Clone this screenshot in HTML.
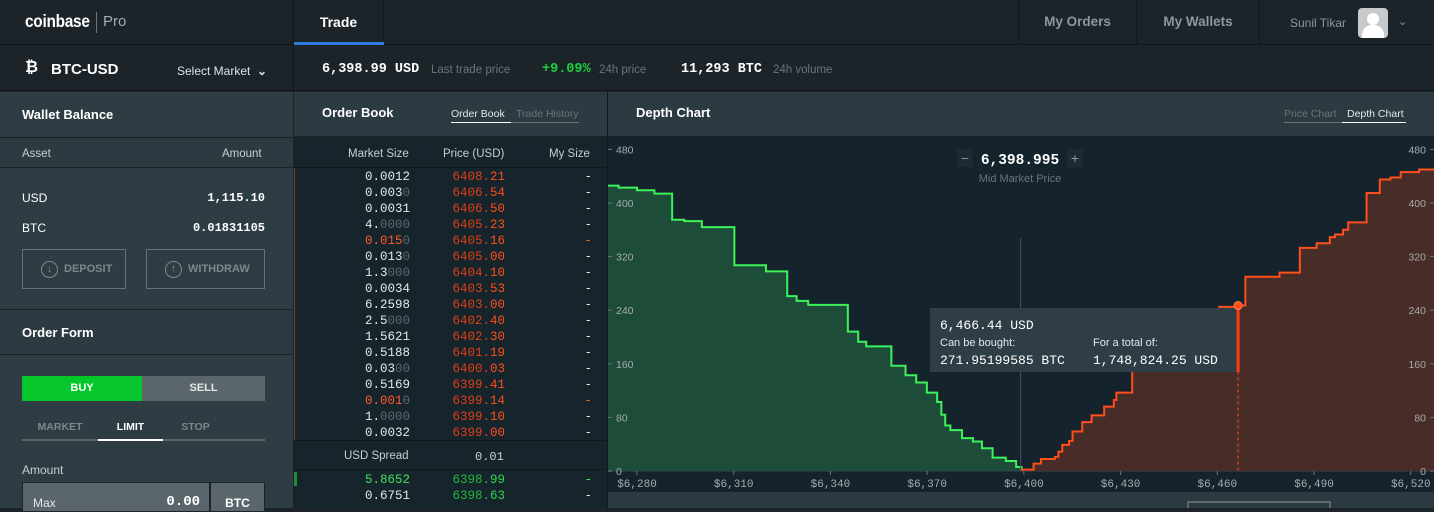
<!DOCTYPE html>
<html><head><meta charset="utf-8"><style>
*{box-sizing:border-box;margin:0;padding:0}
body{width:1434px;height:508px;overflow:hidden;background:#1c2329;font-family:"Liberation Sans",sans-serif;color:#fff;position:relative}
.abs{position:absolute}
.mono{font-family:"Liberation Mono",monospace}
.b{font-weight:bold}
.row{position:absolute;left:294px;width:313px;height:16px;font-family:"Liberation Mono",monospace;font-size:12.5px}
.row span{position:absolute;top:0}
.dim{color:#59646b}
</style></head><body>
<!-- top bar -->
<div class="abs" style="left:0;top:0;width:1434px;height:45px;background:#1c2329;border-bottom:1px solid #11171b"></div>
<div class="abs" style="left:25px;top:11px;font-size:17.5px;letter-spacing:-0.3px;font-weight:bold;transform:scaleX(0.88);transform-origin:left">coinbase</div>
<div class="abs" style="left:96px;top:12px;width:1px;height:21px;background:#6b757b"></div>
<div class="abs" style="left:103px;top:13px;font-size:15px;color:#a5acb0">Pro</div>
<div class="abs" style="left:293px;top:0;width:91px;height:45px;border-left:1px solid #11171b;border-right:1px solid #11171b;text-align:center;line-height:44px;font-size:14px;font-weight:bold">Trade</div>
<div class="abs" style="left:294px;top:42px;width:90px;height:3px;background:#2f7ce0"></div>
<div class="abs" style="left:1018px;top:0;width:119px;height:45px;border-left:1px solid #11171b;border-right:1px solid #11171b;text-align:center;line-height:44px;font-size:13.5px;font-weight:bold;color:#8f979c">My Orders</div>
<div class="abs" style="left:1137px;top:0;width:123px;height:45px;border-right:1px solid #11171b;text-align:center;line-height:44px;font-size:13.5px;font-weight:bold;color:#8f979c">My Wallets</div>
<div class="abs" style="left:1290px;top:16px;font-size:12px;color:#8f979c">Sunil Tikar</div>
<div class="abs" style="left:1358px;top:8px;width:30px;height:30px;background:#c7c9ca;border-radius:4px;overflow:hidden"><div style="position:absolute;left:9px;top:5px;width:12px;height:12px;border-radius:50%;background:#fff"></div><div style="position:absolute;left:4px;top:17px;width:22px;height:16px;border-radius:10px 10px 0 0;background:#fff"></div></div>
<div class="abs" style="left:1398px;top:15px;font-size:11px;color:#8f979c">&#8964;</div>
<!-- ticker bar -->
<div class="abs" style="left:0;top:46px;width:1434px;height:45px;background:#1c2329;border-bottom:1px solid #11171b"></div>
<div class="abs" style="left:293px;top:46px;width:1px;height:45px;background:#11171b"></div>
<div class="abs b" style="left:25px;top:59px;font-size:16px">₿</div>
<div class="abs b" style="left:51px;top:61px;font-size:15px">BTC-USD</div>
<div class="abs" style="left:177px;top:64px;font-size:12px;color:#dfe3e5">Select Market &nbsp;<b>&#8964;</b></div>
<div class="abs mono b" style="left:322px;top:62px;font-size:13.5px">6,398.99 USD</div>
<div class="abs" style="left:431px;top:64px;font-size:11.5px;color:#6b757b">Last trade price</div>
<div class="abs mono b" style="left:542px;top:62px;font-size:13.5px;color:#19d13b">+9.09%</div>
<div class="abs" style="left:599px;top:64px;font-size:11.5px;color:#6b757b">24h price</div>
<div class="abs mono b" style="left:681px;top:62px;font-size:13.5px">11,293 BTC</div>
<div class="abs" style="left:773px;top:64px;font-size:11.5px;color:#6b757b">24h volume</div>
<!-- left panel -->
<div class="abs" style="left:0;top:92px;width:293px;height:416px;background:#2e3c44"></div>
<div class="abs b" style="left:22px;top:107px;font-size:13px">Wallet Balance</div>
<div class="abs" style="left:0;top:137px;width:293px;height:1px;background:#1a242a"></div>
<div class="abs" style="left:0;top:138px;width:293px;height:30px;background:#2c3a42;border-bottom:1px solid #1a242a"></div>
<div class="abs" style="left:22px;top:148px;font-size:11.5px;color:#c9cfd2">Asset</div>
<div class="abs" style="left:222px;top:148px;font-size:11.5px;color:#c9cfd2">Amount</div>
<div class="abs" style="left:22px;top:191px;font-size:12px">USD</div>
<div class="abs mono b" style="left:170px;top:191px;width:95px;text-align:right;font-size:12px">1,115.10</div>
<div class="abs" style="left:22px;top:221px;font-size:12px">BTC</div>
<div class="abs mono b" style="left:150px;top:221px;width:115px;text-align:right;font-size:12px">0.01831105</div>
<div class="abs b" style="left:22px;top:249px;width:104px;height:40px;border:1px solid #66727a;color:#7d878d;font-size:11px;line-height:38px;padding-left:18px"><span style="display:inline-block;width:17px;height:17px;border:1.5px solid #7d878d;border-radius:50%;text-align:center;line-height:14px;font-size:11px;vertical-align:middle;margin-right:6px">↓</span>DEPOSIT</div>
<div class="abs b" style="left:146px;top:249px;width:119px;height:40px;border:1px solid #66727a;color:#7d878d;font-size:11px;line-height:38px;padding-left:18px"><span style="display:inline-block;width:17px;height:17px;border:1.5px solid #7d878d;border-radius:50%;text-align:center;line-height:14px;font-size:11px;vertical-align:middle;margin-right:6px">↑</span>WITHDRAW</div>
<div class="abs" style="left:0;top:309px;width:293px;height:46px;background:#2c3a42;border-top:1px solid #1a242a;border-bottom:1px solid #1a242a"></div>
<div class="abs b" style="left:22px;top:325px;font-size:13px">Order Form</div>
<div class="abs b" style="left:22px;top:376px;width:120px;height:25px;background:#05c62b;text-align:center;line-height:25px;font-size:11px">BUY</div>
<div class="abs b" style="left:142px;top:376px;width:123px;height:25px;background:#5b666c;text-align:center;line-height:25px;font-size:11px;color:#e5e8ea">SELL</div>
<div class="abs b" style="left:22px;top:421px;width:76px;text-align:center;font-size:10.5px;color:#7d878d">MARKET</div>
<div class="abs b" style="left:98px;top:421px;width:65px;text-align:center;font-size:10.5px">LIMIT</div>
<div class="abs b" style="left:163px;top:421px;width:65px;text-align:center;font-size:10.5px;color:#7d878d">STOP</div>
<div class="abs" style="left:22px;top:439px;width:243px;height:2px;background:#5b666c"></div>
<div class="abs" style="left:98px;top:439px;width:65px;height:2px;background:#fff"></div>
<div class="abs" style="left:22px;top:463px;font-size:12px;color:#c9cfd2">Amount</div>
<div class="abs" style="left:22px;top:482px;width:188px;height:30px;background:#5b666c;border:1px solid #1a242a"></div>
<div class="abs" style="left:33px;top:496px;font-size:12px;color:#e5e8ea">Max</div>
<div class="abs mono b" style="left:140px;top:494px;width:60px;text-align:right;font-size:14px">0.00</div>
<div class="abs b" style="left:210px;top:482px;width:55px;height:30px;background:#5b666c;border:1px solid #1a242a;text-align:center;padding-top:13px;font-size:12px">BTC</div>
<!-- order book -->
<div class="abs" style="left:294px;top:92px;width:313px;height:416px;background:#16242c"></div>
<div class="abs" style="left:294px;top:92px;width:313px;height:45px;background:#2c3a42;border-bottom:1px solid #1a242a"></div>
<div class="abs b" style="left:322px;top:105px;font-size:13px">Order Book</div>
<div class="abs" style="left:451px;top:108px;font-size:10.5px;color:#e5e8ea;border-bottom:1px solid #fff;padding-bottom:2px;width:60px">Order Book</div>
<div class="abs" style="left:511px;top:108px;font-size:10.5px;color:#6b757b;border-bottom:1px solid #6b757b;padding-bottom:2px;width:68px;padding-left:5px">Trade History</div>
<div class="abs" style="left:294px;top:137px;width:313px;height:31px;background:#16242c;border-bottom:1px solid #0f1a20"></div>
<div class="abs" style="left:348px;top:148px;font-size:11.5px;color:#c9cfd2">Market Size</div>
<div class="abs" style="left:443px;top:148px;font-size:11.5px;color:#c9cfd2">Price (USD)</div>
<div class="abs" style="left:549px;top:148px;font-size:11.5px;color:#c9cfd2">My Size</div>
<div class="abs" style="left:294px;top:168px;width:1px;height:272px;background:#8a3a26"></div>
<div class="abs" style="left:294px;top:440px;width:313px;height:30px;background:#16242c;border-top:1px solid #0f1a20;border-bottom:1px solid #0f1a20"></div>
<div class="abs" style="left:344px;top:450px;font-size:11.5px;color:#c9cfd2">USD Spread</div>
<div class="abs mono" style="left:475px;top:450px;font-size:12px;color:#c9cfd2">0.01</div>
<div class="abs" style="left:294px;top:472px;width:3px;height:14px;background:#1f8a3a"></div>
<div class="abs" style="left:607px;top:92px;width:1px;height:416px;background:#0f1a20"></div>
<div id="ob"></div>
<!-- depth chart -->
<div class="abs" style="left:608px;top:92px;width:826px;height:45px;background:#2c3a42;border-bottom:1px solid #1a242a"></div>
<div class="abs b" style="left:636px;top:105px;font-size:13px">Depth Chart</div>
<div class="abs" style="left:1284px;top:108px;font-size:10.5px;color:#6b757b;border-bottom:1px solid #6b757b;padding-bottom:2px;width:58px">Price Chart</div>
<div class="abs" style="left:1342px;top:108px;font-size:10.5px;color:#e5e8ea;border-bottom:1px solid #fff;padding-bottom:2px;width:64px;padding-left:5px">Depth Chart</div>
<svg class="abs" style="left:608px;top:137px" width="826" height="371" id="chart"></svg>
<script>
const bidPrices=[6399.3,6397.6,6394.4,6390.3,6387.0,6384.2,6380.8,6377.2,6375.6,6374.4,6373.1,6369.9,6366.6,6363.3,6358.9,6351.1,6348.6,6345.4,6333.1,6329.5,6326.6,6320.0,6310.2,6300.1,6294.7,6290.9,6285.4,6280.0,6274.3];
const bidDepth=[6,15,20,34,44,49,61,68,84,103,117,132,143,157,186,193,208,248,254,261,298,307,364,373,375,414,419,423,426];
const askPrices=[6399.3,6403.0,6405.3,6409.6,6410.7,6411.9,6414.0,6415.1,6418.1,6421.0,6424.9,6427.9,6428.7,6433.6,6442.6,6450.8,6460.6,6466.44,6468.7,6479.3,6485.6,6490.8,6494.9,6496.5,6499.0,6500.6,6506.3,6510.4,6513.7,6516.9,6522.6];
const askDepth=[2,11,18,21,29,39,45,59,73,83,96,106,117,150,190,220,245,247,290,296,333,340,349,353,360,371,415,435,438,446,450];
const xTicks=[6280,6310,6340,6370,6400,6430,6460,6490,6520];
const yTicks=[0,80,160,240,320,400,480];
const midPrice=6398.995, hoverPrice=6466.44, hoverDepth=247;
const X=p=>29+(p-6280)*3.224, Y=d=>334-d*0.67;
const svg=document.getElementById('chart'),NS='http://www.w3.org/2000/svg';
function mk(t,a,name,inter){const e=document.createElementNS(NS,t);for(const k in a)e.setAttribute(k,a[k]);


svg.appendChild(e);return e;}
mk('rect',{x:0,y:0,width:826,height:371,fill:'#15232c'},'chart-background',false);
let d=`M${X(bidPrices[0])},${Y(0)}`;
for(let i=0;i<bidPrices.length;i++){d+=` L${X(bidPrices[i])},${Y(bidDepth[i])}`;const nx=i+1<bidPrices.length?X(bidPrices[i+1]):0;d+=` L${nx},${Y(bidDepth[i])}`;}
mk('path',{d:d+` L0,${Y(0)} Z`,fill:'#1d4d38'},'bid-area',false);
mk('path',{d:d,fill:'none',stroke:'#3cf25a','stroke-width':2},'bid-line',false);
let a=`M${X(askPrices[0])},${Y(0)}`;
for(let i=0;i<askPrices.length;i++){a+=` L${X(askPrices[i])},${Y(askDepth[i])}`;const nx=i+1<askPrices.length?X(askPrices[i+1]):826;a+=` L${nx},${Y(askDepth[i])}`;}
mk('path',{d:a+` L826,${Y(0)} Z`,fill:'#472c27'},'ask-area',false);
mk('path',{d:a,fill:'none',stroke:'#ff4f1a','stroke-width':2},'ask-line',false);
mk('line',{x1:X(midPrice),x2:X(midPrice),y1:101,y2:Y(0),stroke:'#46545c','stroke-width':1},'mid-price-line',false);
mk('line',{x1:X(hoverPrice),x2:X(hoverPrice),y1:Y(hoverDepth),y2:Y(0),stroke:'#ff4f1a','stroke-dasharray':'3,3'},'hover-dashed-line',false);
mk('rect',{x:322,y:171,width:307,height:64,fill:'#2e3d46'},'tooltip-box',false);
mk('line',{x1:X(hoverPrice),x2:X(hoverPrice),y1:Y(hoverDepth),y2:235,stroke:'#ff3a10','stroke-width':3},'hover-bar',false);
mk('circle',{cx:X(hoverPrice),cy:Y(hoverDepth),r:4,fill:'#ff4f1a',stroke:'#ff7a50'},'hover-marker',false);
const tt=[['6,466.44 USD',332,192,13,'Liberation Mono','#fff'],['Can be bought:',332,209,11,'Liberation Sans','#e5e8ea'],['271.95199585 BTC',332,227,13,'Liberation Mono','#fff'],['For a total of:',485,209,11,'Liberation Sans','#e5e8ea'],['1,748,824.25 USD',485,227,13,'Liberation Mono','#fff']];
tt.forEach((t,i)=>{const e=mk('text',{x:t[1],y:t[2],'font-size':t[3],'font-family':t[4],fill:t[5]},'tooltip-text-'+i,false);e.textContent=t[0];});
mk('rect',{x:0,y:Y(0),width:826,height:21,fill:'#15232c'},'x-axis-band',false);
mk('line',{x1:0,x2:826,y1:Y(0)+0.5,y2:Y(0)+0.5,stroke:'#26343c'},'x-axis-line',false);
xTicks.forEach(v=>{mk('line',{x1:X(v),x2:X(v),y1:Y(0),y2:Y(0)+4,stroke:'#6b757b'},'x-tick',false);
const e=mk('text',{x:X(v),y:Y(0)+16,'font-size':11,'font-family':'Liberation Mono',fill:'#a5acb0','text-anchor':'middle'},'x-tick-label',false);e.textContent='$'+v.toLocaleString('en-US');});
yTicks.forEach(v=>{mk('line',{x1:0,x2:4,y1:Y(v),y2:Y(v),stroke:'#6b757b'},'y-tick-left',false);
let e=mk('text',{x:8,y:Y(v)+4,'font-size':10.5,'font-family':'Liberation Sans',fill:'#a5acb0'},'y-tick-label-left',false);e.textContent=v;
mk('line',{x1:822,x2:826,y1:Y(v),y2:Y(v),stroke:'#6b757b'},'y-tick-right',false);
e=mk('text',{x:818,y:Y(v)+4,'font-size':10.5,'font-family':'Liberation Sans',fill:'#a5acb0','text-anchor':'end'},'y-tick-label-right',false);e.textContent=v;});
mk('rect',{x:0,y:355,width:826,height:16,fill:'#2c3a42'},'chart-footer',false);
mk('rect',{x:580,y:365,width:142,height:10,fill:'none',stroke:'#8f979c'},'footer-box',false);
mk('rect',{x:349,y:12,width:16,height:18,fill:'#1c2a32'},'zoom-out-button',true);
mk('rect',{x:459,y:12,width:16,height:18,fill:'#1c2a32'},'zoom-in-button',true);
let e=mk('text',{x:357,y:26,'font-size':14,fill:'#8f979c','text-anchor':'middle'},'zoom-out-icon',true);e.textContent='−';
e=mk('text',{x:467,y:26,'font-size':14,fill:'#8f979c','text-anchor':'middle'},'zoom-in-icon',true);e.textContent='+';
e=mk('text',{x:412,y:27,'font-size':14.5,'font-weight':'bold','font-family':'Liberation Mono',fill:'#fff','text-anchor':'middle'},'mid-market-price',false);e.textContent='6,398.995';
e=mk('text',{x:412,y:45,'font-size':11,'font-family':'Liberation Sans',fill:'#6b757b','text-anchor':'middle'},'mid-market-label',false);e.textContent='Mid Market Price';

const asks=[['0.0012','',0,'6408.','21'],['0.003','0',0,'6406.','54'],['0.0031','',0,'6406.','50'],['4.','0000',0,'6405.','23'],['0.015','0',1,'6405.','16'],['0.013','0',0,'6405.','00'],['1.3','000',0,'6404.','10'],['0.0034','',0,'6403.','53'],['6.2598','',0,'6403.','00'],['2.5','000',0,'6402.','40'],['1.5621','',0,'6402.','30'],['0.5188','',0,'6401.','19'],['0.03','00',0,'6400.','03'],['0.5169','',0,'6399.','41'],['0.001','0',1,'6399.','14'],['1.','0000',0,'6399.','10'],['0.0032','',0,'6399.','00']];
const bids=[['5.8652','',2,'6398.','99'],['0.6751','',0,'6398.','63']];
const ob=document.getElementById('ob');
function addRow(r,top,side,i){const div=document.createElement('div');div.className='row';div.style.top=top+'px';


const sc=r[2]==1?'#ff5a2a':r[2]==2?'#46e05a':'#e5e8ea';const pc=side=='ask'?'#ff4f1a':'#2fd84a';const dc=side=='ask'?'#e03e14':'#22b83a';
div.innerHTML=`<span style="left:0;width:116px;text-align:right;color:${sc}">${r[0]}<span class="dim" style="position:static">${r[1]}</span></span>`+
`<span style="left:116px;width:95px;text-align:right;color:${dc}">${r[3]}<span style="position:static;color:${pc}">${r[4]}</span></span>`+
`<span style="left:250px;width:48px;text-align:right;color:${sc}">-</span>`;
ob.appendChild(div);}
asks.forEach((r,i)=>addRow(r,170+i*16,'ask',i));
bids.forEach((r,i)=>addRow(r,473+i*16,'bid',i));
</script>
</body></html>
